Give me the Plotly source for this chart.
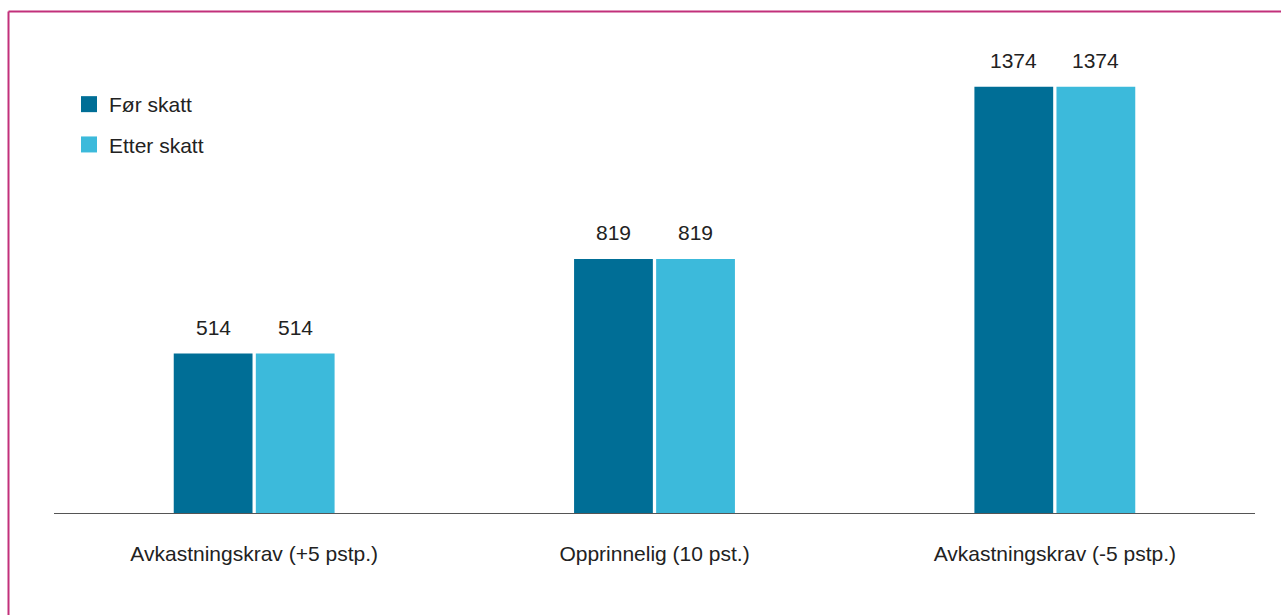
import plotly.graph_objects as go

categories = ["Avkastningskrav (+5 pstp.)", "Opprinnelig (10 pst.)", "Avkastningskrav (-5 pstp.)"]
series_names = ["Før skatt", "Etter skatt"]
for_skatt = [514, 819, 1374]
etter_skatt = [514, 819, 1374]

colors = ["#006e96", "#3cbadb"]
series_values = [for_skatt, etter_skatt]

W, H = 1281, 615
ML, MR, MT, MB = 54, 26, 40, 102
FONT = "Liberation Sans, Arial, Helvetica, sans-serif"
FS = 21
TXT = "#222222"
BARGAP = 0.59
BARGROUPGAP = 0.04
YMAX = 1525

fig = go.Figure()
for name, vals, col in zip(series_names, series_values, colors):
    fig.add_trace(go.Bar(x=categories, y=vals, name=name, marker=dict(color=col, line=dict(width=0)),
                         showlegend=False, hoverinfo="x+y"))
    # legend proxy
    fig.add_trace(go.Scatter(x=[None], y=[None], mode="markers", name=name, legendgroup=name,
                             marker=dict(symbol="square", size=16, color=col)))

# value labels above bars
n = len(series_values)
slot = (1 - BARGAP) / n
for si, vals in enumerate(series_values):
    off = -(1 - BARGAP) / 2 + slot * (si + 0.5)
    for ci, v in enumerate(vals):
        fig.add_annotation(x=ci + off, y=v, xref="x", yref="y", text=str(v), showarrow=False,
                           yanchor="middle", yshift=26, font=dict(family=FONT, size=FS, color=TXT))

pw, ph = W - ML - MR, H - MT - MB
def px2x(p): return (p - ML) / pw
def py2y(p): return (H - MB - p) / ph

border = "#c2307b"
fig.add_shape(type="line", xref="paper", yref="paper", x0=px2x(8.5), x1=px2x(1300),
              y0=py2y(11.5), y1=py2y(11.5), line=dict(color=border, width=2))
fig.add_shape(type="line", xref="paper", yref="paper", x0=px2x(8.5), x1=px2x(8.5),
              y0=py2y(11.5), y1=py2y(640), line=dict(color=border, width=2))

fig.update_layout(
    width=W, height=H, margin=dict(l=ML, r=MR, t=MT, b=MB),
    paper_bgcolor="white", plot_bgcolor="white",
    barmode="group", bargap=BARGAP, bargroupgap=BARGROUPGAP,
    font=dict(family=FONT, size=FS, color=TXT),
    legend=dict(x=px2x(69), y=py2y(84), xanchor="left", yanchor="top",
                bgcolor="rgba(0,0,0,0)", font=dict(family=FONT, size=FS, color=TXT),
                itemwidth=30, tracegroupgap=10),
    xaxis=dict(showline=True, linecolor="#555555", linewidth=1, ticks="", showgrid=False,
               ticklabelstandoff=22, tickfont=dict(family=FONT, size=FS, color=TXT),
               range=[-0.5, 2.5]),
    yaxis=dict(visible=False, range=[0, YMAX], showgrid=False, zeroline=False),
)

fig.write_html("out.html")
